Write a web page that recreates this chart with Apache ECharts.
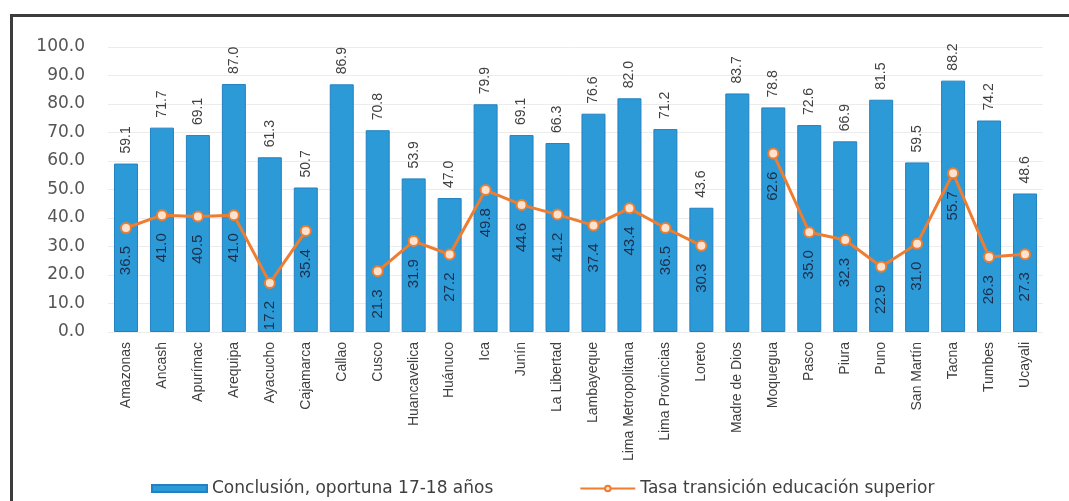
<!DOCTYPE html>
<html>
<head>
<meta charset="utf-8">
<script src="https://cdn.jsdelivr.net/npm/echarts@6/dist/echarts.min.js"></script>
<style>html,body{margin:0;padding:0;background:#fff}#c{width:1069px;height:501px}</style>
</head>
<body>
<div id="c"></div>
<script>
const categories = ['Amazonas','Ancash','Apurímac','Arequipa','Ayacucho','Cajamarca','Callao','Cusco','Huancavelica','Huánuco','Ica','Junín','La Libertad','Lambayeque','Lima Metropolitana','Lima Provincias','Loreto','Madre de Dios','Moquegua','Pasco','Piura','Puno','San Martín','Tacna','Tumbes','Ucayali'];
const conclusion = [59.1,71.7,69.1,87.0,61.3,50.7,86.9,70.8,53.9,47.0,79.9,69.1,66.3,76.6,82.0,71.2,43.6,83.7,78.8,72.6,66.9,81.5,59.5,88.2,74.2,48.6];
const transicion = [36.5,41.0,40.5,41.0,17.2,35.4,null,21.3,31.9,27.2,49.8,44.6,41.2,37.4,43.4,36.5,30.3,null,62.6,35.0,32.3,22.9,31.0,55.7,26.3,27.3];
const seriesNames = ['Conclusión, oportuna 17-18 años','Tasa transición educación superior'];

const chart = echarts.init(document.getElementById('c'));
chart.setOption({
  animation: false,
  backgroundColor: '#fff',
  graphic: [{
    type: 'rect', left: 9, top: 13, shape: {width: 1100, height: 600},
    style: {fill: 'none', stroke: '#3c3c3c', lineWidth: 3}, silent: true, z: 100
  }],
  grid: {left: 108, right: 26, top: 47, bottom: 169, containLabel: false},
  legend: {
    left: 146, top: 475, itemWidth: 55, itemHeight: 7, itemGap: 86,
    textStyle: {fontFamily: 'DejaVu Sans', fontSize: 17, color: '#404040'},
    data: [
      {name: seriesNames[0], icon: 'rect'},
      {name: seriesNames[1]}
    ]
  },
  xAxis: {
    type: 'category', data: categories,
    axisLine: {show: false}, axisTick: {show: false},
    axisLabel: {rotate: 90, interval: 0, margin: 10, fontFamily: 'Liberation Sans, sans-serif', fontSize: 14, color: '#404040'}
  },
  yAxis: {
    type: 'value', min: 0, max: 100, interval: 10,
    axisLine: {show: false}, axisTick: {show: false},
    splitLine: {lineStyle: {color: '#ececec', width: 1}},
    axisLabel: {formatter: v => v.toFixed(1), margin: 23, fontFamily: 'DejaVu Sans', fontSize: 17, color: '#555'}
  },
  series: [{
    name: seriesNames[0], type: 'bar', data: conclusion, barWidth: 24,
    itemStyle: {color: '#2d9ad8', borderColor: '#2381c2', borderWidth: 1},
    label: {show: true, position: 'top', rotate: 90, align: 'left', verticalAlign: 'middle', distance: 10,
      formatter: p => p.value.toFixed(1),
      fontFamily: 'Liberation Sans, sans-serif', fontSize: 14, color: '#404040'}
  }, {
    name: seriesNames[1], type: 'line', data: transicion, connectNulls: false,
    lineStyle: {color: '#ee7d31', width: 3},
    itemStyle: {color: '#fbe3d0', borderColor: '#ee7d31', borderWidth: 2},
    symbol: 'circle', symbolSize: 10, z: 5,
    label: {show: true, position: 'bottom', rotate: 90, align: 'right', verticalAlign: 'middle', distance: 12,
      formatter: p => p.value == null ? '' : p.value.toFixed(1),
      fontFamily: 'Liberation Sans, sans-serif', fontSize: 15, color: '#1c2f4a'}
  }]
});
</script>
</body>
</html>
